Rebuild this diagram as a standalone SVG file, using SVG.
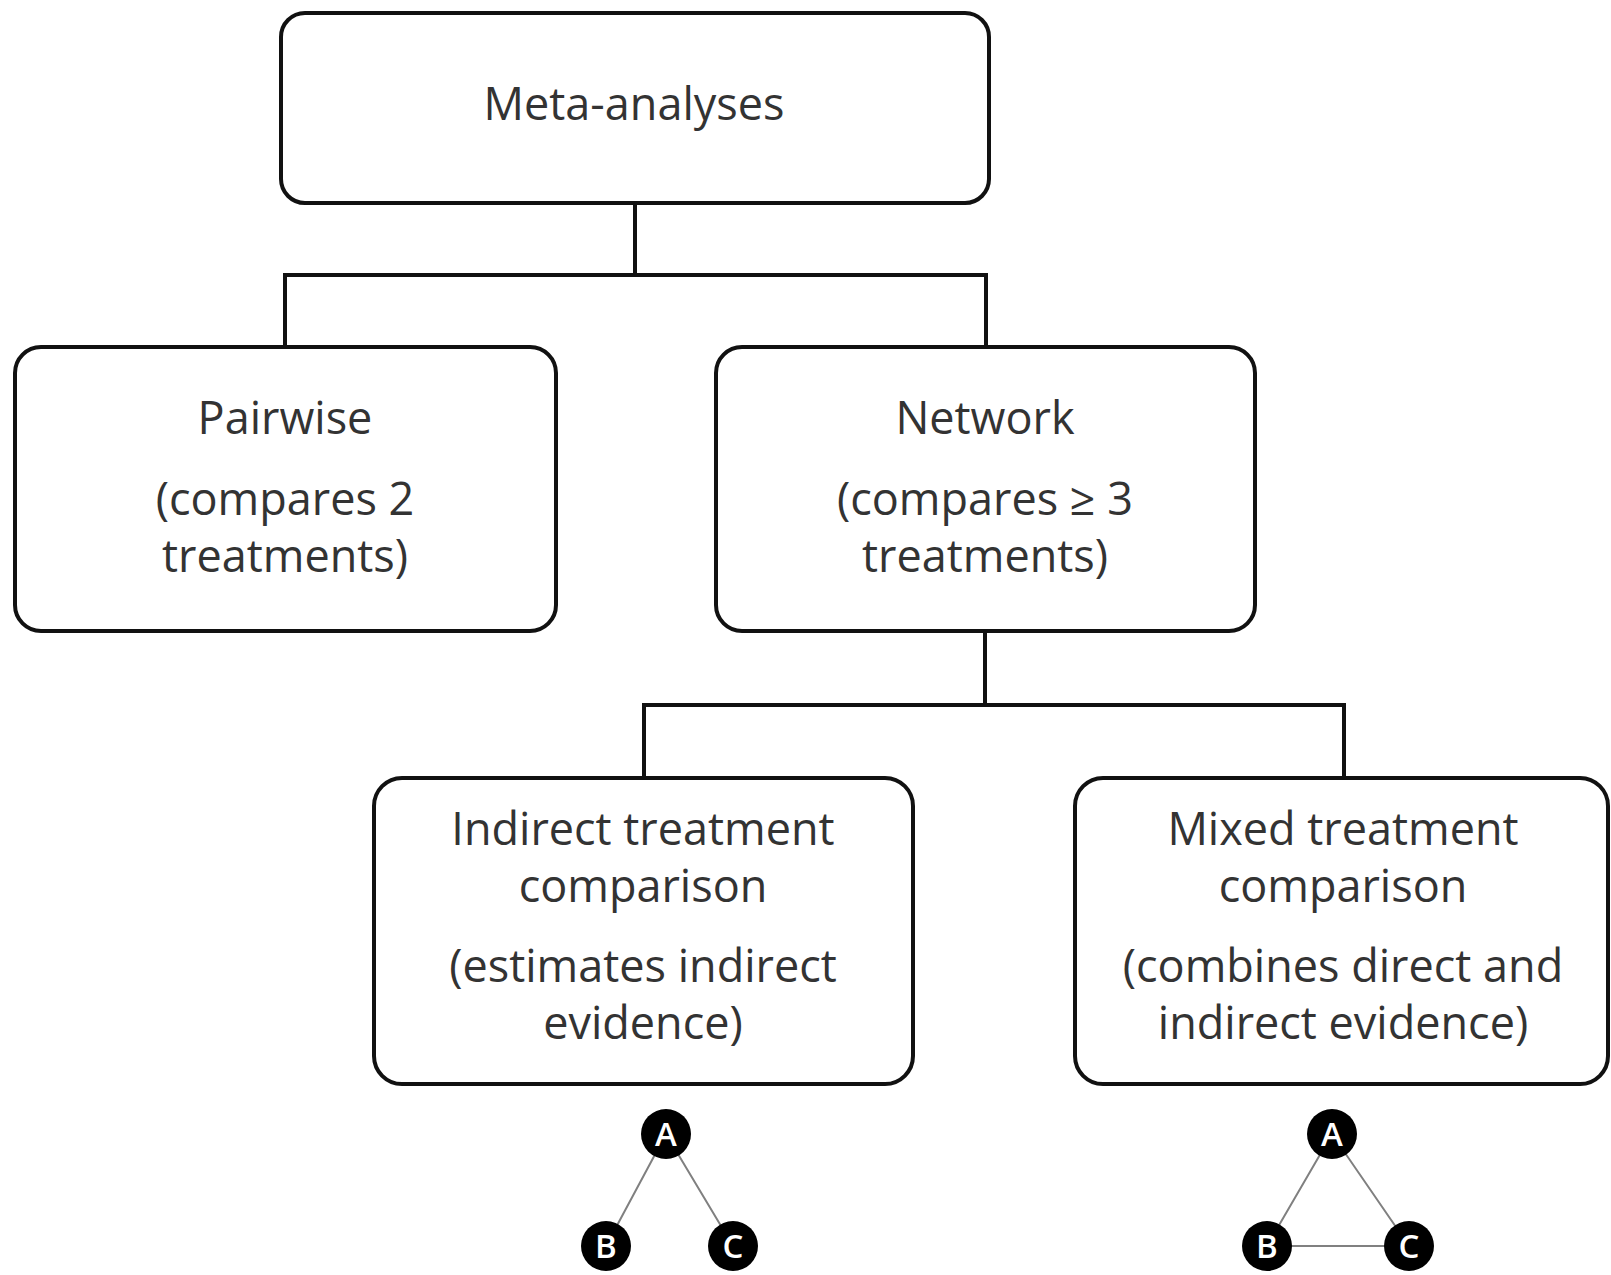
<svg xmlns="http://www.w3.org/2000/svg" width="1611" height="1275" viewBox="0 0 1611 1275">
<style>
.box{fill:#fff;stroke:#111;stroke-width:4}
.conn{fill:none;stroke:#111;stroke-width:4}
.t{font-family:"Open Sans","Liberation Sans",sans-serif;font-size:45px;fill:#333;text-anchor:middle}
.edge{stroke:#808080;stroke-width:2;fill:none}
.dot{fill:#000}
.lt{font-family:"Open Sans","Liberation Sans",sans-serif;font-size:33px;font-weight:600;fill:#fff;text-anchor:middle}
</style>
<rect width="1611" height="1275" fill="#fff"/>
<g id="connectors">
<path class="conn" d="M635 203 V275 M285 347 V275 H986 V347"/>
<path class="conn" d="M985 631 V705 M644 778 V705 H1344 V778"/>
</g>
<g id="meta">
<rect class="box" x="281" y="13" width="708" height="190" rx="24"/>
<text class="t" x="634" y="120">Meta-analyses</text>
</g>
<g id="pairwise">
<rect class="box" x="15" y="347" width="541" height="284" rx="26"/>
<text class="t" x="285" y="434">Pairwise</text>
<text class="t" x="285" y="515">(compares 2</text>
<text class="t" x="285" y="572">treatments)</text>
</g>
<g id="network">
<rect class="box" x="716" y="347" width="539" height="284" rx="26"/>
<text class="t" x="985" y="434">Network</text>
<text class="t" x="985" y="515">(compares ≥ 3</text>
<text class="t" x="985" y="572">treatments)</text>
</g>
<g id="indirect">
<rect class="box" x="374" y="778" width="539" height="306" rx="28"/>
<text class="t" x="643" y="845">Indirect treatment</text>
<text class="t" x="643" y="902">comparison</text>
<text class="t" x="643" y="982">(estimates indirect</text>
<text class="t" x="643" y="1039">evidence)</text>
</g>
<g id="mixed">
<rect class="box" x="1075" y="778" width="533" height="306" rx="28"/>
<text class="t" x="1343" y="845">Mixed treatment</text>
<text class="t" x="1343" y="902">comparison</text>
<text class="t" x="1343" y="982">(combines direct and</text>
<text class="t" x="1343" y="1039">indirect evidence)</text>
</g>
<g id="graph-indirect">
<path class="edge" d="M666 1134 L606 1246 M666 1134 L733 1246"/>
<circle class="dot" cx="666" cy="1134" r="25"/>
<circle class="dot" cx="606" cy="1246" r="25"/>
<circle class="dot" cx="733" cy="1246" r="25"/>
<text class="lt" x="666" y="1146">A</text>
<text class="lt" x="606" y="1258">B</text>
<text class="lt" x="733" y="1258">C</text>
</g>
<g id="graph-mixed">
<path class="edge" d="M1332 1134 L1267 1246 L1409 1246 Z"/>
<circle class="dot" cx="1332" cy="1134" r="25"/>
<circle class="dot" cx="1267" cy="1246" r="25"/>
<circle class="dot" cx="1409" cy="1246" r="25"/>
<text class="lt" x="1332" y="1146">A</text>
<text class="lt" x="1267" y="1258">B</text>
<text class="lt" x="1409" y="1258">C</text>
</g>
</svg>
